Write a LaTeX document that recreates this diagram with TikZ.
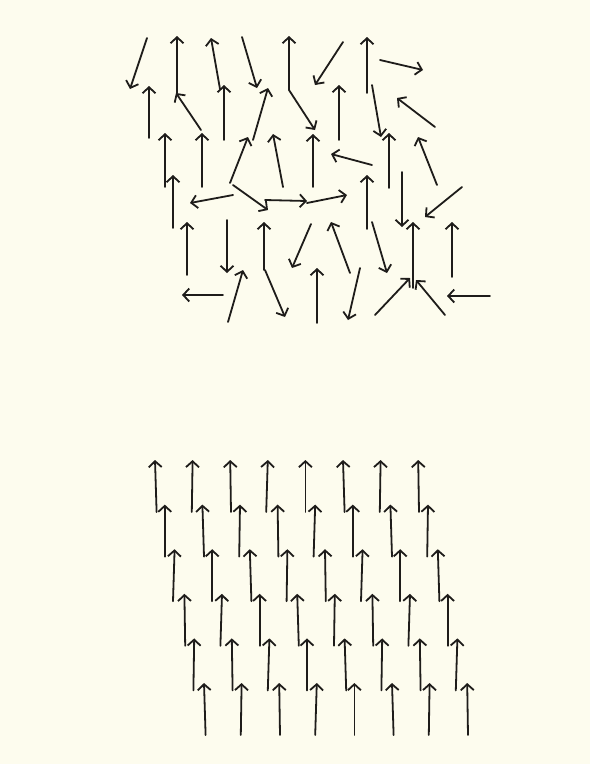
\documentclass[tikz,border=0pt]{standalone}
\usepackage{xcolor}
\usepackage{tikz}
\usetikzlibrary{arrows.meta}
\definecolor{ink}{RGB}{30,28,26}
\definecolor{paper}{RGB}{253,252,238}

\begin{document}
\begin{tikzpicture}[x=1pt,y=-1pt,
  spin/.style={draw=ink,line width=1.8pt,line cap=round,-{Straight Barb[length=6pt,width=13pt]}}
]
\fill[paper] (0,0) rectangle (590,764);
\useasboundingbox (0,0) rectangle (590,764);
% disordered spins (tail / head)
\foreach \xa/\ya/\xb/\yb in {
  147/38/130/89, 177/93/177/36, 201/130/176/93, 149/138/149/86,
  220/89/211/38, 224/140/224/85, 242/37/257/88, 253/140/268/88,
  230/183/248/137, 283/187/273/134, 289/90/289/36, 289/90/315/130,
  313/187/313/134, 343/42/315/85, 367/93/367/37, 380/60/423/70,
  339/140/339/85, 372/85/381/137, 435/127/397/98, 389/188/389/133,
  372/165/331/154, 437/185/418/137, 367/229/367/175, 402/172/402/227,
  165/187/165/133, 173/228/173/175, 202/187/202/133, 233/195/190/203,
  233/185/268/210, 265/200/307/201, 264/270/264/222, 187/275/187/222,
  227/220/227/273, 228/322/243/270, 223/295/182/295, 265/270/285/317,
  311/224/292/268, 307/203/347/195, 350/273/331/222, 317/323/317/268,
  360/268/348/320, 372/222/387/273, 462/187/425/217, 413/288/413/222,
  375/315/410/278, 445/315/416/280, 452/277/452/222, 490/296/447/296}
  \draw[spin] (\xa,\ya) -- (\xb,\yb);
% aligned spins, each leaning a little
\foreach \r in {0,...,5}
  \foreach \c in {0,...,7} {
    \pgfmathsetmacro{\lean}{0.8*(mod(3*\c+2*\r,5)-2)}
    \draw[spin] ({155+37.6*\c+9.8*\r-\lean},{512+44.6*\r}) -- ++(\lean,-52);
  }
\end{tikzpicture}
\end{document}
